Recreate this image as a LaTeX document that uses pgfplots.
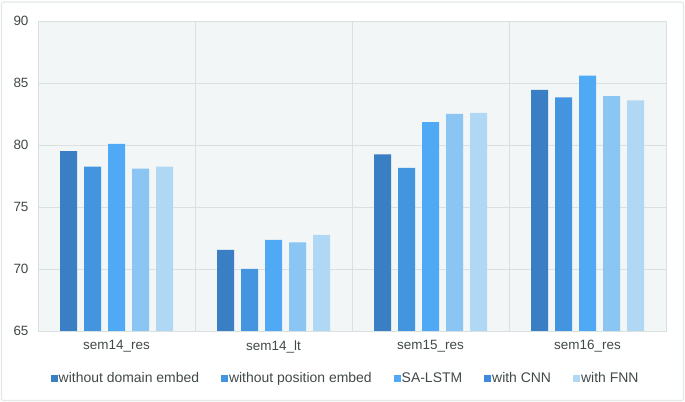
\documentclass[border=0pt]{standalone}
\usepackage{fontspec}
\setmainfont{Liberation Sans}
\usepackage{pgfplots}
\usepackage{pgfplotstable}
\pgfplotsset{compat=1.18}

\definecolor{cA}{HTML}{3A7EC4}
\definecolor{cB}{HTML}{4495E0}
\definecolor{cC}{HTML}{4FA9F5}
\definecolor{cD}{HTML}{8AC5F3}
\definecolor{cE}{HTML}{B0D8F4}
\definecolor{lD}{HTML}{3F88E0}
\definecolor{gridc}{HTML}{D8E0E0}
\definecolor{bgc}{HTML}{F2F6F6}
\definecolor{txt}{HTML}{404848}
\definecolor{framec}{HTML}{E3E8E8}

% one row per dataset, one column per model variant
\pgfplotstableread{
x a b c d e
0 79.5 78.25 80.1 78.1 78.25
1 71.55 70.0 72.35 72.15 72.75
2 79.25 78.15 81.85 82.5 82.6
3 84.45 83.85 85.6 83.95 83.6
}\scores

\newcommand{\legsq}[1]{\fill[#1] (0bp,-3.5bp) rectangle (7bp,3.5bp);}

\begin{document}
\begin{tikzpicture}
\path[use as bounding box] (0,0) rectangle (685bp,402bp);
\draw[framec, line width=1.2bp, rounded corners=2bp] (1.5bp,1.5bp) rectangle (683.5bp,400bp);
\begin{axis}[
  at={(38bp,71bp)}, anchor=south west,
  scale only axis, width=628bp, height=310bp,
  ybar=7bp, bar width=17bp,
  xmin=-0.5, xmax=3.5, ymin=65, ymax=90,
  ytick={65,70,...,90},
  xtick={0,1,2,3},
  xticklabels={sem14\_res,sem14\_lt,sem15\_res,sem16\_res},
  minor xtick={-0.5,0.5,1.5,2.5,3.5},
  xmajorgrids=false, xminorgrids=true, ymajorgrids=true,
  major tick length=0pt, minor tick length=0pt,
  axis background/.style={fill=bgc},
  axis line style={gridc, line width=0.8bp},
  grid style={gridc, line width=0.8bp},
  minor grid style={gridc, line width=0.8bp},
  /pgf/number format/assume math mode=true,
  tick label style={font=\fontsize{13.5}{16}\selectfont, text=txt},
  yticklabel style={xshift=-6bp},
  xticklabel style={yshift=-6bp},
  legend columns=-1,
  legend style={at={(0.489,-0.152)}, anchor=center, draw=none, fill=none,
    font=\fontsize{14}{16}\selectfont, text=txt,
    nodes={inner xsep=1bp},
    /tikz/every even column/.append style={column sep=21bp}},
]
\addplot[fill=cA, draw=none, legend image code/.code={\legsq{cA}}] table[x=x, y=a] {\scores};
\addplot[fill=cB, draw=none, legend image code/.code={\legsq{cB}}] table[x=x, y=b] {\scores};
\addplot[fill=cC, draw=none, legend image code/.code={\legsq{cC}}] table[x=x, y=c] {\scores};
\addplot[fill=cD, draw=none, legend image code/.code={\legsq{lD}}] table[x=x, y=d] {\scores};
\addplot[fill=cE, draw=none, legend image code/.code={\legsq{cE}}] table[x=x, y=e] {\scores};
\legend{without domain embed, without position embed, SA-LSTM, with CNN, with FNN}
\end{axis}
\end{tikzpicture}
\end{document}
